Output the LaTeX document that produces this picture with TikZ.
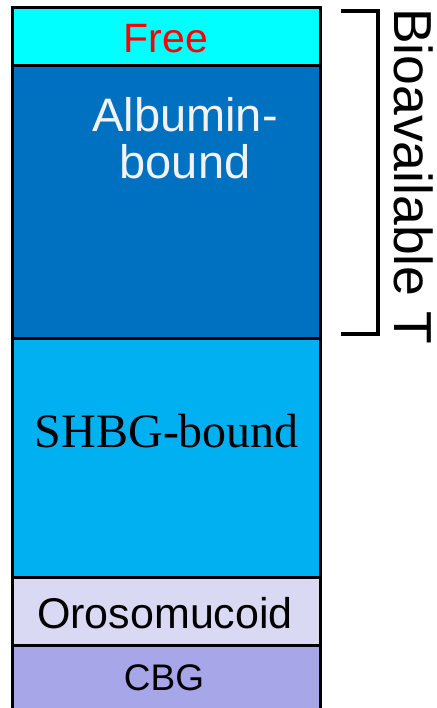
\documentclass[tikz,border=0pt]{standalone}
\usepackage{fontspec}
\setmainfont{Liberation Sans}
\newfontfamily\seriffont{Liberation Serif}
\definecolor{freec}{HTML}{00FFFF}
\definecolor{albc}{HTML}{0070C0}
\definecolor{shbgc}{HTML}{00B0F0}
\definecolor{orosc}{HTML}{D9D9F4}
\definecolor{cbgc}{HTML}{A6A6E8}
\definecolor{albtext}{HTML}{F2F2F2}
\tikzset{
  band/.style={draw=black, line width=3pt, anchor=north west, inner sep=0pt, outer sep=0pt, minimum width=308pt},
  lbl/.style={anchor=base, inner sep=0pt},
  brack/.style={line width=4pt, line join=miter}
}
\begin{document}
\begin{tikzpicture}[x=1pt,y=-1pt]
\useasboundingbox (0,0) rectangle (436,708);
\clip (0,0) rectangle (436,708);
\node[band, fill=cbgc, minimum height=80pt] (cbg) at (12,645) {};
\node[band, fill=orosc, minimum height=68pt] (oros) at (12,577) {};
\node[band, fill=shbgc, minimum height=239pt] (shbg) at (12,338) {};
\node[band, fill=albc, minimum height=272pt] (alb) at (12,66) {};
\node[band, fill=freec, minimum height=58pt] (free) at (12,8) {};
\node[lbl, text=red, font=\fontsize{41}{44}\selectfont] (freet) at (166,53) {Free};
\node[lbl, text=albtext, font=\fontsize{47}{48}\selectfont] (alb1) at (185,132) {Albumin-};
\node[lbl, text=albtext, font=\fontsize{47}{48}\selectfont] (alb2) at (185,179) {bound};
\node[lbl, text=black, font=\seriffont\fontsize{48}{50}\selectfont] (shbgt) at (167,447) {SHBG-bound};
\node[lbl, text=black, font=\fontsize{43}{44}\selectfont] (orost) at (165,628) {Orosomucoid};
\node[lbl, text=black, font=\fontsize{37}{40}\selectfont] (cbgt) at (164,690) {CBG};
\coordinate (b1) at (341,11);
\coordinate (b2) at (378,11);
\coordinate (b3) at (378,334);
\coordinate (b4) at (341,334);
\draw[brack] (b1) -- (b2) -- (b3) -- (b4);
\node[anchor=base west, rotate=-90, inner sep=0pt, font=\fontsize{53.5}{56}\selectfont] (bio) at (394,8) {Bioavailable T};
\end{tikzpicture}
\end{document}
